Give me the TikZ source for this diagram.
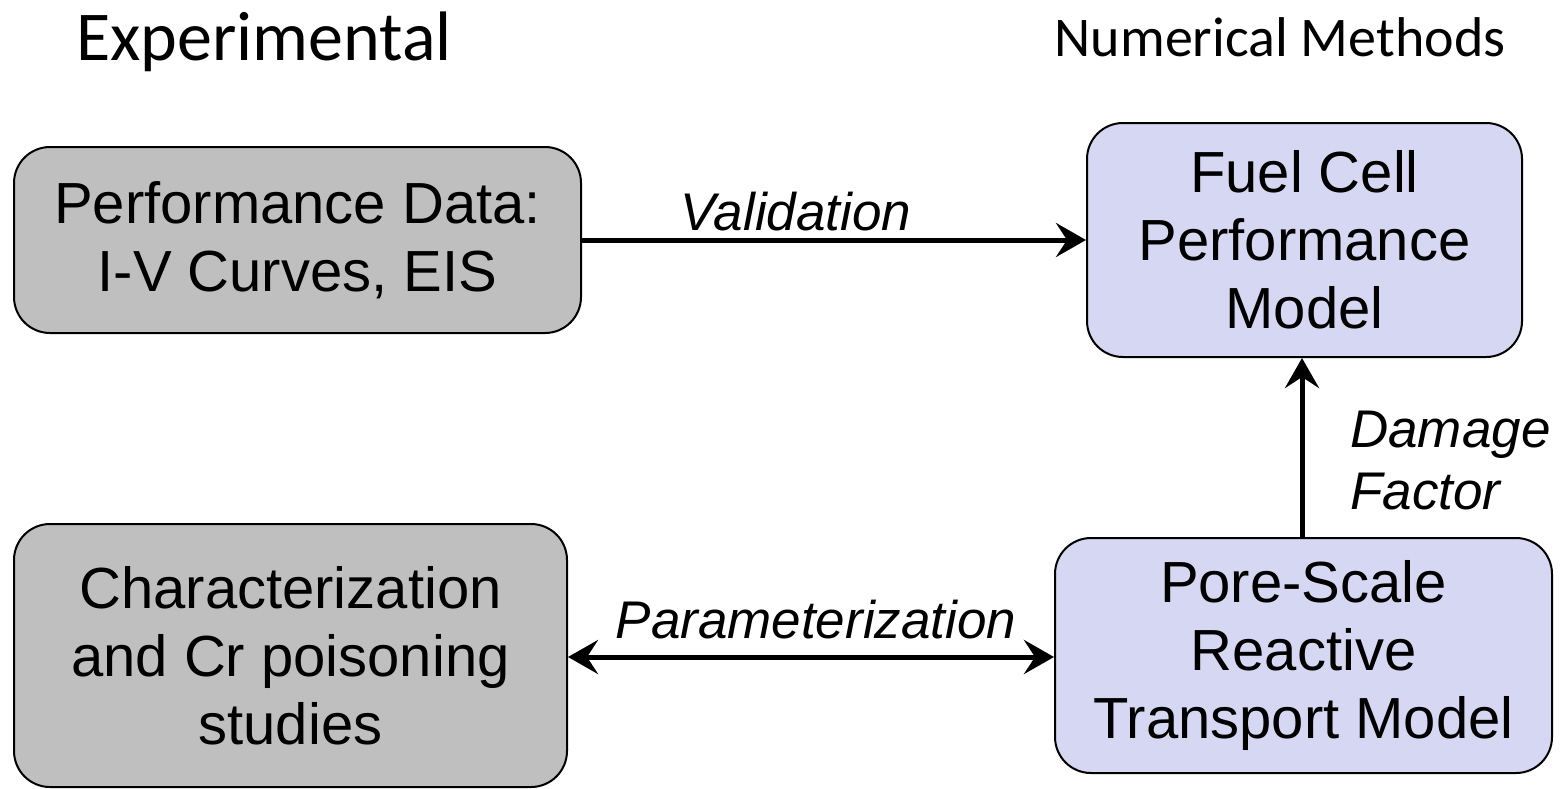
\documentclass[tikz,border=0pt]{standalone}
\usepackage{fontspec}
\setmainfont{Liberation Sans}
\newfontfamily\hdrfont{Carlito}
\usetikzlibrary{arrows.meta}
\definecolor{expgray}{RGB}{191,191,191}
\definecolor{numblue}{RGB}{214,216,243}
\tikzset{
  boxbase/.style={draw=black, line width=2pt, rounded corners=36pt, align=center,
    inner sep=0pt, font=\fontsize{58}{68}\selectfont},
  expbox/.style={boxbase, fill=expgray},
  numbox/.style={boxbase, fill=numblue},
  conn/.style={line width=5pt, -{Stealth[length=30pt,width=34pt,inset=11pt]}},
  dconn/.style={line width=5pt, {Stealth[length=30pt,width=34pt,inset=11pt]}-{Stealth[length=30pt,width=34pt,inset=11pt]}},
  lbl/.style={font=\fontsize{53}{62}\selectfont\itshape, inner sep=0pt},
  hdr/.style={font=\hdrfont, inner sep=0pt}
}
\begin{document}
\begin{tikzpicture}[x=1pt,y=-1pt]
\useasboundingbox (0,0) rectangle (1563,788);
\node[hdr, font=\hdrfont\fontsize{70}{80}\selectfont] (hexp) at (264,42) {Experimental};
\node[hdr, font=\hdrfont\fontsize{56}{64}\selectfont] (hnum) at (1280,37) {Numerical Methods};

\node[expbox, minimum width=567pt, minimum height=186pt] (perf) at (297.5,240) {Performance Data:\\I-V Curves, EIS};
\node[expbox, minimum width=553pt, minimum height=263pt] (char) at (290.5,655.5) {Characterization\\and Cr poisoning\\studies};
\node[numbox, minimum width=435pt, minimum height=234pt] (fuel) at (1304.5,240) {Fuel Cell\\Performance\\Model};
\node[numbox, minimum width=497pt, minimum height=235pt] (pore) at (1303.5,655.5) {Pore-Scale\\Reactive\\Transport Model};

\draw[conn] (perf.east) -- (fuel.west);
\draw[dconn] (char.east |- 0,657) -- (pore.west |- 0,657);
\draw[conn] (pore.north -| 1302,0) -- (fuel.south -| 1302,0);

\node[lbl] (lval) at (796,212) {Validation};
\node[lbl] (lpar) at (816,620) {Parameterization};
\node[lbl, align=left, anchor=west] (ldam) at (1350,461) {Damage\\Factor};
\end{tikzpicture}
\end{document}
